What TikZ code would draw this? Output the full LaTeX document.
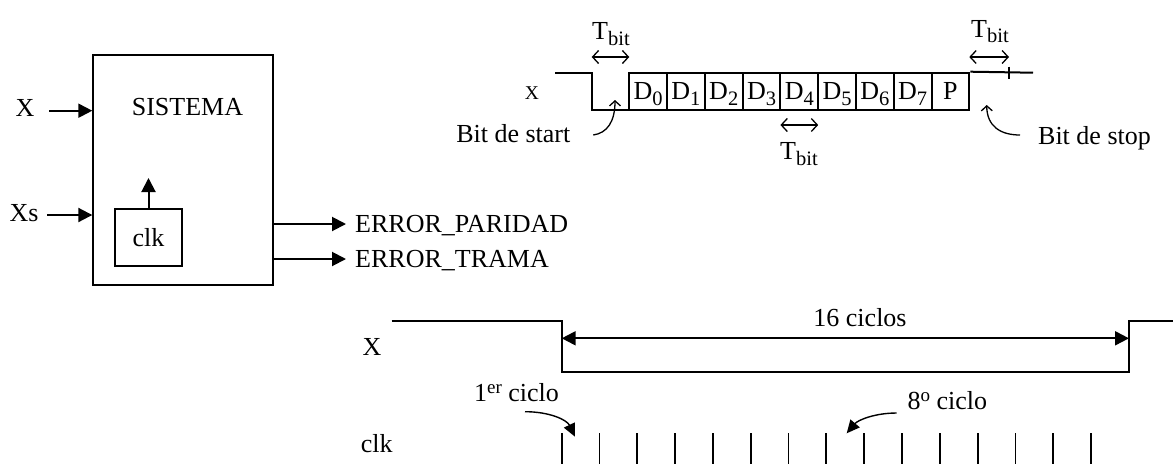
\documentclass[tikz,border=0pt]{standalone}
\usepackage{fontspec}
\setmainfont{Liberation Serif}
\usetikzlibrary{arrows.meta}
\newcommand{\lsub}[1]{\raisebox{-5.5pt}{\fontsize{20.5}{22}\selectfont #1}}
\newcommand{\lsup}[1]{\raisebox{8pt}{\fontsize{19}{20}\selectfont #1}}
\begin{document}
\begin{tikzpicture}[x=1pt,y=-1pt,
  txt/.style={inner sep=0pt,text height=17pt,text depth=0pt,font=\fontsize{26}{30}\selectfont},
  blk/.style={draw,line width=2pt,inner sep=0pt},
  wave/.style={line width=2pt},
  farr/.style={line width=2pt,-{Triangle[length=14pt,width=14pt]}},
  carr/.style={line width=1.4pt,-{Triangle[length=13pt,width=12pt]}},
  oarr/.style={line width=1.3pt,-{Straight Barb[length=5pt,width=11pt]}},
  tarr/.style={line width=1.3pt,{Straight Barb[length=6pt,width=13pt]}-{Straight Barb[length=6pt,width=13pt]}},
  darr/.style={line width=2pt,{Triangle[length=14pt,width=14pt]}-{Triangle[length=14pt,width=14pt]}},
  dbox/.style={draw,line width=2pt,minimum width=37.78pt,minimum height=37.3pt,inner sep=0pt,font=\fontsize{26}{30}\selectfont,text height=17pt,text depth=0pt},
]
\useasboundingbox (0,0) rectangle (1173,464);
% ---- block diagram
\node[blk,minimum width=180pt,minimum height=230pt] (sys) at (183.3,170) {};
\node[txt] (sist) at (187.5,106.7) {SISTEMA};
\node[blk,txt,draw,minimum width=67pt,minimum height=57pt] (clk) at (148.5,237.5) {clk};
\coordinate (clkup) at (148.5,178);
\draw[farr] (clk.north) -- (clkup);
\node[txt] (xin) at (25,108) {X};
\coordinate (xa) at (49,110.7);
\draw[farr] (xa) -- (xa -| sys.west);
\node[txt] (xs) at (24,213) {Xs};
\coordinate (xsa) at (47,215);
\draw[farr] (xsa) -- (xsa -| sys.west);
\node[txt,anchor=west] (ep) at (355,224) {ERROR\_PARIDAD};
\node[txt,anchor=west] (et) at (355,259) {ERROR\_TRAMA};
\draw[farr] (sys.east |- ep.west) -- ([xshift=-9pt]ep.west);
\draw[farr] (sys.east |- et.west) -- ([xshift=-9pt]et.west);
% ---- top timing
\node[inner sep=0pt,text height=12.8pt,text depth=0pt,font=\fontsize{19.5}{22}\selectfont] (xt) at (532,93) {X};
\draw[wave] (555,72.7) -- (591.7,72.7) -- (591.7,110) -- (629.3,110);
\foreach \i in {0,...,7} \node[dbox] (d\i) at ({629.3+37.78*(\i+0.5)},91.35) {D\lsub{\i}};
\node[dbox] (par) at ({629.3+37.78*8.5},91.35) {P};
\coordinate (lineend) at (1033,72.7);
\draw[wave] (par.north east) -- (lineend);
\draw[wave] (1009,66.7) -- (1009,79.3);
\coordinate (ta1) at (591.7,57); \coordinate (ta2) at (629.3,57);
\draw[tarr] (ta1) -- (ta2);
\node[txt] (tb1) at (611,31) {T\lsub{bit}};
\coordinate (tm1) at (780.4,125); \coordinate (tm2) at (818.2,125);
\draw[tarr] (tm1) -- (tm2);
\node[txt] (tb2) at (799,151) {T\lsub{bit}};
\coordinate (tr1) at (969.3,57); \coordinate (tr2) at (1009,57);
\draw[tarr] (tr1) -- (tr2);
\node[txt] (tb3) at (990,28.5) {T\lsub{bit}};
\node[txt] (bstart) at (513.3,133.7) {Bit de start};
\coordinate (bs0) at (593.3,135);
\coordinate (bs1) at (615,100);
\draw[oarr] (bs0) .. controls (607,133) and (615,122) .. (bs1);
\node[txt] (bstop) at (1094.5,135.8) {Bit de stop};
\coordinate (bp0) at (1020,135);
\coordinate (bp1) at (986.7,105);
\draw[oarr] (bp0) .. controls (1000,135) and (987,126) .. (bp1);
% ---- bottom timing
\node[txt] (xb) at (372,346.5) {X};
\draw[wave] (391.7,321.2) -- (561.7,321.2) -- (561.7,372.3) -- (1129,372.3) -- (1129,320.5) -- (1173,320.5);
\coordinate (ca) at (561.7,338.3); \coordinate (cb) at (1129,338.3);
\draw[darr] (ca) -- (cb);
\node[txt] (ciclos) at (860,318.3) {16 ciclos};
\node[txt] (clkb) at (376.7,444) {clk};
\foreach \i in {0,...,14} \draw[line width=1.8pt] ({561.7+37.81*\i},433) -- ({561.7+37.81*\i},464);
\node[txt] (c1) at (516.5,393.4) {1\lsup{er} ciclo};
\coordinate (c1a) at (525,411.7); \coordinate (c1b) at (575,436.7);
\draw[carr] (c1a) .. controls (550,411.7) and (567,420) .. (c1b);
\node[txt] (c8) at (947.3,401) {8\lsup{o} ciclo};
\coordinate (c8a) at (896.7,413); \coordinate (c8b) at (846.7,433.3);
\draw[carr] (c8a) .. controls (875,413) and (858,420) .. (c8b);
\end{tikzpicture}
\end{document}
